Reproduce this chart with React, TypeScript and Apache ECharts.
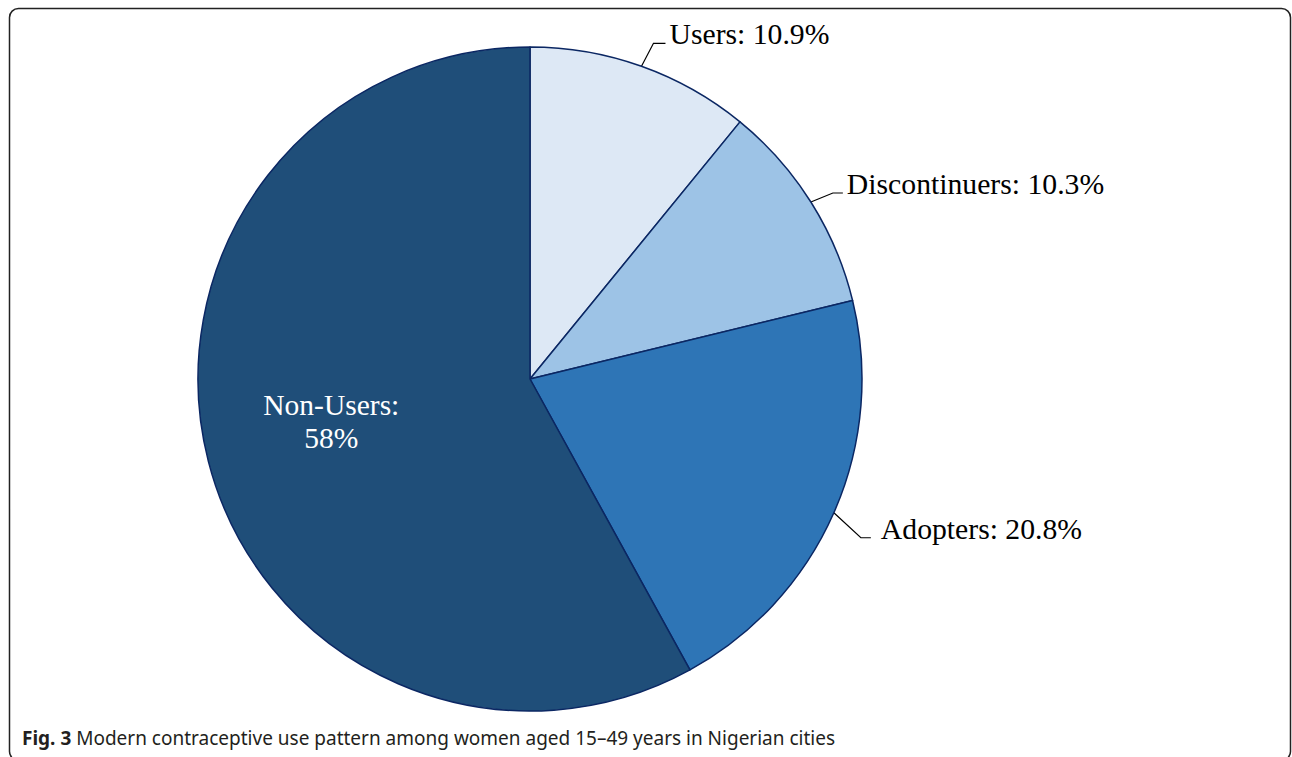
import React, { useEffect, useRef } from "react";
import * as echarts from "echarts";

const categories = ["Users", "Discontinuers", "Adopters", "Non-Users"];
const shares = [10.9, 10.3, 20.8, 58];
const sliceColors = ["#DDE8F5", "#9DC3E6", "#2E75B6", "#1F4E79"];
const captionBold = "Fig. 3";
const captionText = "Modern contraceptive use pattern among women aged 15–49 years in Nigerian cities";

// leader-line geometry (style only): elbow offset from arc point, horizontal length, gap to text
const leaderStyle = [
  { ox: 12, oy: -23, h: 12, gap: 4 },
  { ox: 22, oy: -9, h: 10, gap: 4 },
  { ox: 27, oy: 25, h: 10, gap: 10 },
];

const CX = 530;
const CY = 379;
const R = 332;

export default function App() {
  const ref = useRef<HTMLDivElement>(null);
  useEffect(() => {
    if (!ref.current) return;
    const chart = echarts.init(ref.current, null, { renderer: "svg" });
    const total = shares.reduce((a, b) => a + b, 0);
    const mids: number[] = [];
    let acc = 0;
    shares.forEach((v) => {
      mids.push((acc + v / 2) / total);
      acc += v;
    });

    const data = categories.map((name, i) => {
      const inside = i === 3;
      return {
        name,
        value: shares[i],
        itemStyle: { color: sliceColors[i] },
        label: inside
          ? {
              position: "inside",
              formatter: "{b}:\n{c}%",
              color: "#ffffff",
              fontSize: 29.5,
              lineHeight: 33,
              fontFamily: "'Liberation Serif', 'Times New Roman', serif",
            }
          : {
              position: "outside",
              formatter: "{b}: {c}%",
              color: "#000000",
              fontSize: 29.7,
              fontFamily: "'Liberation Serif', 'Times New Roman', serif",
            },
        labelLine: { show: !inside },
      };
    });

    chart.setOption({
      animation: false,
      backgroundColor: "#ffffff",
      graphic: [
        {
          type: "rect",
          shape: { x: 9.5, y: 8.5, width: 1281, height: 752, r: 9 },
          style: { fill: "none", stroke: "#222222", lineWidth: 1.5 },
          silent: true,
        },
        {
          type: "text",
          left: 22,
          top: 728,
          style: {
            text: "{b|" + captionBold + "} " + captionText,
            rich: {
              b: {
                fontWeight: "bold",
                fontSize: 19,
                fill: "#231f20",
                fontFamily: "'Noto Sans', 'Open Sans', sans-serif",
              },
            },
            fontSize: 19,
            fill: "#231f20",
            fontFamily: "'Noto Sans', 'Open Sans', sans-serif",
          },
        },
      ],
      series: [
        {
          type: "pie",
          center: [CX, CY],
          radius: R,
          startAngle: 90,
          clockwise: true,
          avoidLabelOverlap: false,
          itemStyle: { borderColor: "#0b2763", borderWidth: 1.5 },
          labelLine: { lineStyle: { color: "#000000", width: 1.2 }, smooth: false },
          emphasis: { disabled: true },
          labelLayout: (params: any) => {
            const i = params.dataIndex;
            if (i === 3) {
              return { dx: -35, dy: 0 };
            }
            const th = mids[i] * Math.PI * 2;
            const px = CX + R * Math.sin(th);
            const py = CY - R * Math.cos(th);
            const s = leaderStyle[i];
            const ex = px + s.ox;
            const ey = py + s.oy;
            const hx = ex + s.h;
            return {
              x: hx + s.gap,
              y: ey - 9,
              align: "left",
              verticalAlign: "middle",
              labelLinePoints: [
                [px, py],
                [ex, ey],
                [hx, ey],
              ],
            };
          },
          data,
        },
      ],
    });
    return () => chart.dispose();
  }, []);
  return (
    <div
      ref={ref}
      style={{ position: "fixed", left: 0, top: 0, width: 1292, height: 757 }}
    />
  );
}
